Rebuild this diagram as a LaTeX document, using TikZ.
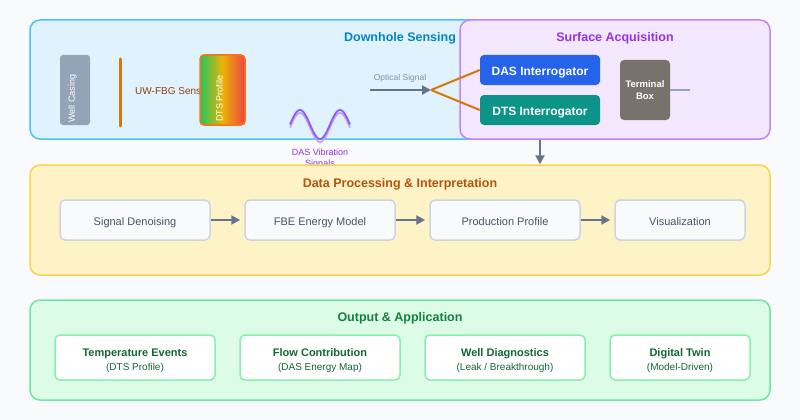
\documentclass[tikz,border=0pt]{standalone}
\usepackage{fontspec}
\setmainfont{Liberation Sans}
\usetikzlibrary{arrows.meta}
\definecolor{bgc}{HTML}{F8FAFC}
\definecolor{dhfill}{HTML}{E0F2FE}
\definecolor{dhdraw}{HTML}{4CC3F7}
\definecolor{dhtext}{HTML}{0284C7}
\definecolor{safill}{HTML}{F3E8FF}
\definecolor{sadraw}{HTML}{C084FC}
\definecolor{satext}{HTML}{9333EA}
\definecolor{dpfill}{HTML}{FEF3C7}
\definecolor{dpdraw}{HTML}{FCD34D}
\definecolor{dptext}{HTML}{B45309}
\definecolor{oafill}{HTML}{DCFCE7}
\definecolor{oadraw}{HTML}{6EE7A0}
\definecolor{oatext}{HTML}{15803D}
\definecolor{cardtext}{HTML}{166534}
\definecolor{carddraw}{HTML}{86EFAC}
\definecolor{procfill}{HTML}{F8FAFC}
\definecolor{procdraw}{HTML}{CBD5E1}
\definecolor{proctext}{HTML}{475569}
\definecolor{arrc}{HTML}{64748B}
\definecolor{casingc}{HTML}{94A3B8}
\definecolor{fiberc}{HTML}{D97706}
\definecolor{fbgtext}{HTML}{92400E}
\definecolor{dasc}{HTML}{2563EB}
\definecolor{dtsc}{HTML}{0D9488}
\definecolor{termc}{HTML}{78716C}
\definecolor{wavedark}{HTML}{8B5CF6}
\definecolor{wavelight}{HTML}{C4A5FA}
\definecolor{optc}{HTML}{8391A7}
\definecolor{gr}{HTML}{22C55E}
\definecolor{ye}{HTML}{EAB308}
\definecolor{re}{HTML}{EF4444}
\definecolor{dtsborder}{HTML}{F97316}
\newcommand{\fs}[1]{\fontsize{#1}{#1}\selectfont}
\tikzset{
  container/.style={draw, line width=1.5pt, rounded corners=10pt, inner sep=0pt},
  title/.style={font=\bfseries\fs{12.5}, inner sep=0pt, anchor=base},
  procbox/.style={fill=procfill, draw=procdraw, line width=1.5pt, rounded corners=5pt,
     minimum height=40pt, text=proctext, font=\fs{11}, inner sep=0pt, text height=10.5pt, text depth=0pt},
  outcard/.style={fill=white, draw=carddraw, line width=1.5pt, rounded corners=5pt,
     minimum height=45pt, inner sep=0pt},
  cardtitle/.style={anchor=base, inner sep=0pt, text=cardtext, font=\bfseries\fs{11}},
  cardsub/.style={anchor=base, inner sep=0pt, text=cardtext, font=\fs{10}},
  interr/.style={rounded corners=4pt, minimum width=120pt, minimum height=30pt,
     text=white, font=\bfseries\fs{12}, inner sep=0pt, text height=10pt, text depth=0pt},
  arr/.style={draw=arrc, line width=2pt, -{Triangle[length=9pt,width=9pt]}},
  fiber/.style={draw=fiberc, line width=2pt},
  vtext/.style={rotate=90, anchor=west, font=\fs{9}, inner sep=0pt},
}
\begin{document}
\begin{tikzpicture}[x=1pt,y=-1pt]
\useasboundingbox (0,0) rectangle (800,420);
\fill[bgc] (0,0) rectangle (800,420);

% Downhole sensing
\node[container, fill=dhfill, draw=dhdraw, minimum width=460pt, minimum height=119pt] (downhole) at (260,79.5) {};
\node[title, text=dhtext] (dhtitle) at (400,42) {Downhole Sensing};
\node[fill=casingc, rounded corners=3pt, minimum width=30pt, minimum height=70pt, inner sep=0pt] (casing) at (75,90) {};
\node[vtext, text=white] (casingtext) at (72.5,123) {Well Casing};
\coordinate (fbgtop) at (120,59);
\coordinate (fbgbot) at (120,126);
\draw[draw=fiberc, line width=3pt, line cap=round] (fbgtop) -- (fbgbot);
\node[anchor=west, inner sep=0pt, text=fbgtext, font=\fs{10}] (fbgtext) at (135,91) {UW-FBG Sensor};
\node[draw=dtsborder, line width=1.5pt, rounded corners=4pt, left color=gr, right color=re, middle color=ye,
      minimum width=45pt, minimum height=70pt, inner sep=0pt] (dtsprof) at (222.5,90) {};
\node[vtext, text=white] (dtsproftext) at (219.5,122) {DTS Profile};

% optical signal
\coordinate (optstart) at (370,90);
\coordinate (split) at (431,90);
\node[font=\fs{8.5}, text=optc, inner sep=0pt] (opttext) at (400,78) {Optical Signal};

% wave
\draw[wavelight, line width=1.8pt, domain=290:350, samples=80, smooth] plot (\x, {127.5 - 14.5*cos(9*(\x-300))});
\draw[wavedark, line width=1.8pt, domain=290:350, samples=80, smooth] plot (\x, {124.5 - 14.5*cos(9*(\x-300))});
\node[align=center, font=\fs{9}, text=satext, inner sep=0pt] (wavetext) at (320,158.5) {DAS Vibration\\[2pt]Signals};

% Surface acquisition
\node[container, fill=safill, draw=sadraw, minimum width=310pt, minimum height=119pt] (surface) at (615,79.5) {};
\node[title, text=satext] (satitle) at (615,42) {Surface Acquisition};
\node[interr, fill=dasc] (das) at (540,70) {DAS Interrogator};
\node[interr, fill=dtsc] (dts) at (540,110) {DTS Interrogator};
\node[fill=termc, rounded corners=4pt, minimum width=50pt, minimum height=60pt, inner sep=0pt,
      text=white, align=center, font=\bfseries\fs{9.5}] (term) at (645,90) {Terminal\\[2pt]Box};
\coordinate (termend) at (690,90);
\draw[draw=casingc, line width=2pt] (term.east) -- (termend);

\draw[arr] (optstart) -- (split);
\draw[fiber] (split) -- (das.west);
\draw[fiber] (split) -- (dts.west);

% Data processing
\node[container, fill=dpfill, draw=dpdraw, minimum width=740pt, minimum height=110pt] (data) at (400,220) {};
\node[title, text=dptext] (dptitle) at (400,187.3) {Data Processing \& Interpretation};
\node[procbox, minimum width=150pt] (p1) at (135,220) {Signal Denoising};
\node[procbox, minimum width=150pt] (p2) at (320,220) {FBE Energy Model};
\node[procbox, minimum width=150pt] (p3) at (505,220) {Production Profile};
\node[procbox, minimum width=130pt] (p4) at (680,220) {Visualization};
\draw[arr, shorten >=4pt] (p1) -- (p2);
\draw[arr, shorten >=4pt] (p2) -- (p3);
\draw[arr, shorten >=4pt] (p3) -- (p4);

\draw[arr] (surface.south -| das) -- (data.north -| das);

% Output
\node[container, fill=oafill, draw=oadraw, minimum width=740pt, minimum height=100pt] (output) at (400,350) {};
\node[title, text=oatext] (oatitle) at (400,321.7) {Output \& Application};
\node[outcard, minimum width=160pt] (o1) at (135,357.5) {};
\node[outcard, minimum width=160pt] (o2) at (320,357.5) {};
\node[outcard, minimum width=160pt] (o3) at (505,357.5) {};
\node[outcard, minimum width=140pt] (o4) at (680,357.5) {};
\node[cardtitle] (o1t) at (135,356) {Temperature Events};
\node[cardsub] (o1s) at (135,370.5) {(DTS Profile)};
\node[cardtitle] (o2t) at (320,356) {Flow Contribution};
\node[cardsub] (o2s) at (320,370.5) {(DAS Energy Map)};
\node[cardtitle] (o3t) at (505,356) {Well Diagnostics};
\node[cardsub] (o3s) at (505,370.5) {(Leak / Breakthrough)};
\node[cardtitle] (o4t) at (680,356) {Digital Twin};
\node[cardsub] (o4s) at (680,370.5) {(Model-Driven)};
\end{tikzpicture}
\end{document}
